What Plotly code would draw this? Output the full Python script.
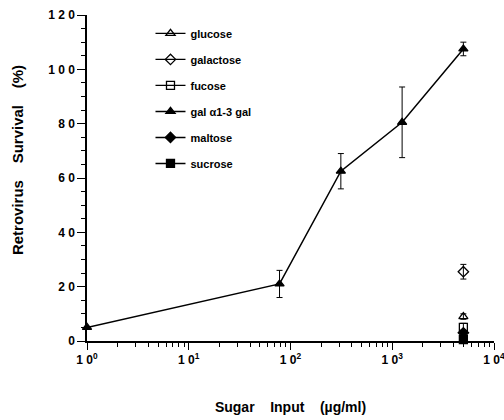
import plotly.graph_objects as go

# gal a1-3 gal dose response
gal_x = [1, 78, 312.5, 1250, 5000]
gal_y = [5, 21, 62.5, 80.5, 107.5]
gal_err = [0, 5, 6.5, 13, 2.5]

# other sugars at highest input
sugar_x = 5000
glucose_y, glucose_err = 9, 1
galactose_y, galactose_err = 25.5, 2.7
fucose_y, fucose_err = 5, 1.5
maltose_y, maltose_err = 3, 1
sucrose_y, sucrose_err = 0.5, 0.5

NB = "\u00a0"
y_ticks = [0, 20, 40, 60, 80, 100, 120]
x_ticks = [1, 10, 100, 1000, 10000]
x_ticktext = [f"1{NB}0<sup>{k}</sup>" for k in range(5)]
y_ticktext = ["0", f"2{NB}0", f"4{NB}0", f"6{NB}0", f"8{NB}0", f"1{NB}0{NB}0", f"1{NB}2{NB}0"]

FONT = "Liberation Sans"
fig = go.Figure()

def add(name, x, y, err, symbol, lw, group):
    fig.add_trace(go.Scatter(
        x=x, y=y, name=name, mode="lines+markers", legendgroup=group,
        line=dict(color="black", width=lw),
        marker=dict(symbol=symbol, size=8, color="black",
                    line=dict(color="black", width=1.3)),
        error_y=dict(type="data", array=err, color="black", thickness=1, width=3),
        cliponaxis=False,
    ))

add("glucose", [sugar_x], [glucose_y], [glucose_err], "triangle-up-open", 1.3, "a")
add("galactose", [sugar_x], [galactose_y], [galactose_err], "diamond-open", 1.3, "b")
add("fucose", [sugar_x], [fucose_y], [fucose_err], "square-open", 1.3, "c")
add("gal α1-3 gal", gal_x, gal_y, gal_err, "triangle-up", 1.5, "d")
add("maltose", [sugar_x], [maltose_y], [maltose_err], "diamond", 1.5, "e")
add("sucrose", [sugar_x], [sucrose_y], [sucrose_err], "square", 1.5, "f")

fig.update_layout(
    width=504, height=420,
    margin=dict(l=87, r=10, t=15, b=79),
    paper_bgcolor="white", plot_bgcolor="white",
    font=dict(family=FONT, color="black", size=11),
    showlegend=True,
    legend=dict(x=0.156, y=0.988, xanchor="left", yanchor="top",
                bgcolor="rgba(0,0,0,0)", font=dict(size=11, family=FONT, weight="bold"),
                tracegroupgap=7, traceorder="grouped", itemwidth=30),
    xaxis=dict(type="log", range=[0, 4], showgrid=False, zeroline=False,
               showline=True, linecolor="black", linewidth=1.5, automargin=False,
               ticks="outside", ticklen=7, tickwidth=1, tickcolor="black",
               tickvals=x_ticks, ticktext=x_ticktext, ticklabeloverflow="allow",
               tickfont=dict(size=12, family=FONT, weight="bold"),
               minor=dict(ticks="outside", ticklen=4, tickcolor="black", dtick="D1", showgrid=False),
               title=dict(text=f"<b>Sugar{NB*4}Input{NB*4}(µg/ml)</b>",
                          font=dict(size=14, family=FONT), standoff=36)),
    yaxis=dict(range=[0, 120], showgrid=False, zeroline=False,
               showline=True, linecolor="black", linewidth=1.5, automargin=False,
               ticks="outside", ticklen=8, tickwidth=1, tickcolor="black",
               tickvals=y_ticks, ticktext=y_ticktext, ticklabeloverflow="allow",
               tickfont=dict(size=12, family=FONT, weight="bold"),
               minor=dict(ticks="outside", ticklen=4, tickcolor="black", dtick=5, showgrid=False)),
    annotations=[dict(text=f"<b>Retrovirus{NB*4}Survival{NB*4}(%)</b>",
                      textangle=-90, xref="paper", yref="paper",
                      x=-0.172, y=0.555, xanchor="center", yanchor="middle",
                      showarrow=False, font=dict(size=15, family=FONT))],
)

fig.write_html("out.html", config={"displayModeBar": False},
               post_script="document.body.style.margin='0';document.body.style.overflow='hidden';")
